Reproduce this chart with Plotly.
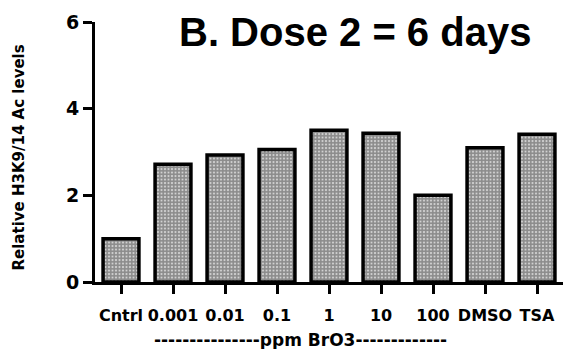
import plotly.graph_objects as go

categories = ["Cntrl", "0.001", "0.01", "0.1", "1", "10", "100", "DMSO", "TSA"]
values = [1.0, 2.72, 2.93, 3.06, 3.50, 3.43, 2.0, 3.10, 3.41]
y_ticks = [0, 2, 4, 6]
title_text = "B. Dose 2 = 6 days"
y_title = "Relative H3K9/14 Ac levels"
x_title = "---------------ppm BrO3-------------"

W, H = 569, 349
L, R, T, B = 95, 6, 22, 67
pw, ph = W - L - R, H - T - B

def px_x(x):
    return (x - L) / pw

def px_y(y):
    return (H - B - y) / ph

fig = go.Figure(go.Bar(
    x=categories, y=values,
    marker=dict(
        color="white",
        line=dict(color="black", width=3.5),
        pattern=dict(shape=".", size=3.5, solidity=0.8, fgcolor="#1a1a1a", bgcolor="white", fillmode="overlay"),
    ),
    width=0.69,
))

tickfont = dict(family="DejaVu Sans", size=16, color="black", weight="bold")

fig.update_layout(
    width=W, height=H,
    margin=dict(l=L, r=R, t=T, b=B),
    paper_bgcolor="white", plot_bgcolor="white",
    showlegend=False,
    xaxis=dict(
        range=[-0.5, 8.5], showline=True, linecolor="black", linewidth=3,
        ticks="outside", ticklen=9, tickwidth=2.5, tickcolor="black",
        showgrid=False, zeroline=False, tickfont=tickfont, ticklabelstandoff=8,
        tickangle=0, automargin=False,
    ),
    yaxis=dict(
        range=[0, 6], tickvals=y_ticks, showline=True, linecolor="black", linewidth=3,
        ticks="outside", ticklen=9, tickwidth=2.5, tickcolor="black",
        showgrid=False, zeroline=False, automargin=False,
        tickfont=dict(family="DejaVu Sans", size=19, color="black", weight="bold"),
    ),
    annotations=[
        dict(text=title_text, x=px_x(355), y=px_y(32), xref="paper", yref="paper",
             xanchor="center", yanchor="middle", showarrow=False,
             font=dict(family="Liberation Sans", size=40, color="black", weight="bold")),
        dict(text=y_title, x=px_x(19), y=px_y(157.5), xref="paper", yref="paper",
             xanchor="center", yanchor="middle", showarrow=False, textangle=-90,
             font=dict(family="DejaVu Sans", size=15, color="black", weight="bold")),
        dict(text=x_title, x=px_x(300.5), y=px_y(340), xref="paper", yref="paper",
             xanchor="center", yanchor="middle", showarrow=False,
             font=dict(family="DejaVu Sans", size=17, color="black", weight="bold")),
    ],
)

fig.write_html("out.html")
